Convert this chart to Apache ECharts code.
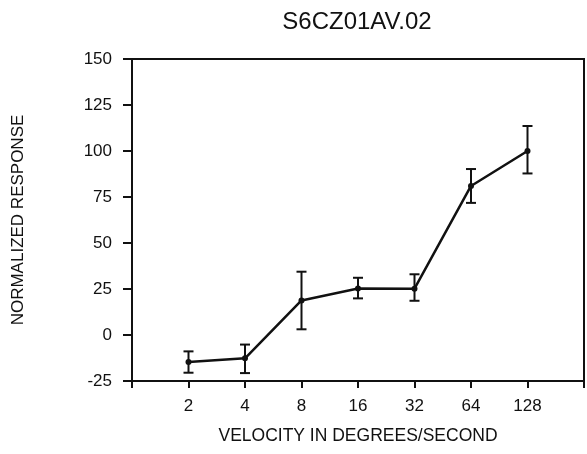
<!DOCTYPE html>
<html>
<head>
<meta charset="utf-8">
<script src="https://cdn.jsdelivr.net/npm/echarts@6/dist/echarts.min.js"></script>
<style>
html, body { margin: 0; padding: 0; background: #fff; }
#main { width: 587px; height: 454px; }
</style>
</head>
<body>
<div id="main"></div>
<script>
// velocity categories (deg/s), plotted at evenly spaced positions 1..7
var velocities = [2, 4, 8, 16, 32, 64, 128];
var meanResponse = [-14.7, -12.7, 18.8, 25.3, 25.2, 81, 100];
var errLow = [-20.5, -20.7, 3.1, 19.9, 18.6, 71.8, 87.8];
var errHigh = [-8.9, -5.2, 34.4, 31.1, 33, 90.2, 113.6];
var yTicks = [-25, 0, 25, 50, 75, 100, 125, 150];

var font = 'Liberation Sans, Arial, Helvetica, sans-serif';

var lineData = velocities.map(function (v, i) { return [i + 1, meanResponse[i]]; });
var barData = velocities.map(function (v, i) { return [i + 1, errLow[i], errHigh[i]]; });

var chart = echarts.init(document.getElementById('main'));

var option = {
    backgroundColor: '#ffffff',
    animation: false,
    title: {
        text: 'S6CZ01AV.02',
        left: 352,
        top: 5,
        textAlign: 'center',
        textStyle: { fontFamily: font, fontSize: 24, fontWeight: 'normal', color: '#111' }
    },
    grid: {
        left: 132,
        right: 2,
        top: 59,
        bottom: 73,
        show: true,
        borderColor: '#111',
        borderWidth: 2
    },
    xAxis: {
        type: 'value',
        min: 0,
        max: 8,
        interval: 1,
        name: 'VELOCITY IN DEGREES/SECOND',
        nameLocation: 'middle',
        nameGap: 46,
        nameTextStyle: { fontFamily: font, fontSize: 17.5, color: '#111', verticalAlign: 'top' },
        axisLine: { onZero: false, lineStyle: { color: '#111', width: 2 } },
        axisTick: { length: 7, lineStyle: { color: '#111', width: 2 } },
        axisLabel: {
            margin: 17,
            fontFamily: font,
            fontSize: 17,
            color: '#111',
            formatter: function (v) {
                var c = velocities[v - 1];
                return c === undefined ? '' : String(c);
            }
        },
        splitLine: { show: false }
    },
    yAxis: {
        type: 'value',
        min: yTicks[0],
        max: yTicks[yTicks.length - 1],
        interval: 25,
        name: 'NORMALIZED RESPONSE',
        nameLocation: 'middle',
        nameGap: 105,
        nameTextStyle: { fontFamily: font, fontSize: 17, color: '#111' },
        axisLine: { onZero: false, lineStyle: { color: '#111', width: 2 } },
        axisTick: { length: 9, lineStyle: { color: '#111', width: 2 } },
        axisLabel: { margin: 20, fontFamily: font, fontSize: 17, color: '#111' },
        splitLine: { show: false }
    },
    series: [
        {
            type: 'custom',
            data: barData,
            z: 3,
            renderItem: function (params, api) {
                var x = api.value(0);
                var lo = api.coord([x, api.value(1)]);
                var hi = api.coord([x, api.value(2)]);
                var half = 5;
                var st = { stroke: '#111', lineWidth: 2 };
                return {
                    type: 'group',
                    children: [
                        { type: 'line', shape: { x1: lo[0], y1: lo[1], x2: hi[0], y2: hi[1] }, style: st },
                        { type: 'line', shape: { x1: lo[0] - half, y1: lo[1], x2: lo[0] + half, y2: lo[1] }, style: st },
                        { type: 'line', shape: { x1: hi[0] - half, y1: hi[1], x2: hi[0] + half, y2: hi[1] }, style: st }
                    ]
                };
            }
        },
        {
            type: 'line',
            data: lineData,
            z: 4,
            symbol: 'circle',
            symbolSize: 6,
            itemStyle: { color: '#111' },
            lineStyle: { color: '#111', width: 2.5 }
        }
    ]
};

chart.setOption(option);
</script>
</body>
</html>
